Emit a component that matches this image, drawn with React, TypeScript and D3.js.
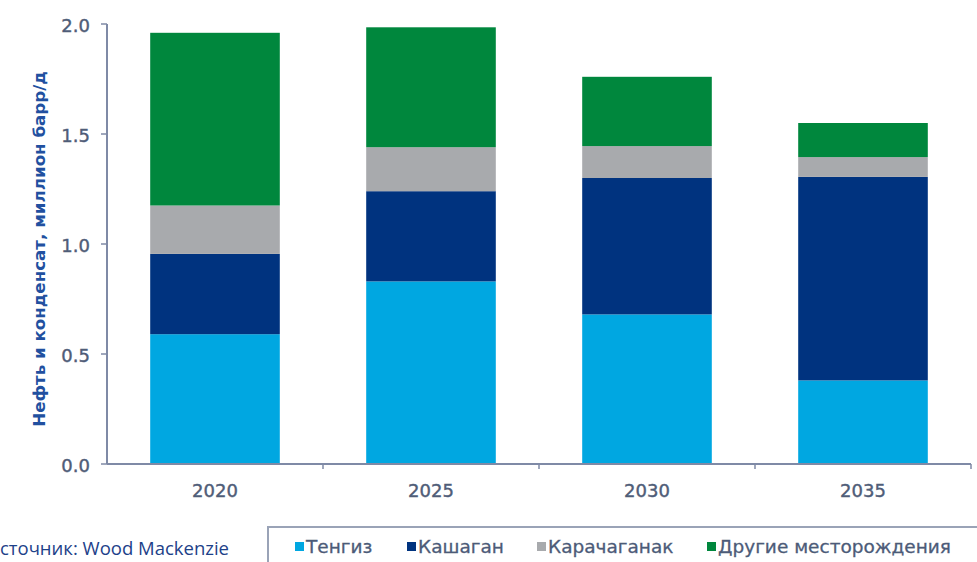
import React from "react";
import * as d3 from "d3";

const categories = ["2020", "2025", "2030", "2035"];
const seriesNames = ["Тенгиз", "Кашаган", "Карачаганак", "Другие месторождения"];
const tengiz = [0.59, 0.83, 0.68, 0.38];
const kashagan = [0.365, 0.41, 0.62, 0.925];
const karachaganak = [0.22, 0.2, 0.145, 0.09];
const other = [0.785, 0.545, 0.315, 0.155];
const yTicks = [0, 0.5, 1.0, 1.5, 2.0];
const colors = ["#00a7e1", "#00337f", "#a8aaad", "#00873d"];
const yTitle = "Нефть и конденсат, миллион барр/д";
const sourceText = "Источник: Wood Mackenzie";

const W = 977;
const H = 562;

export default function App() {
  const x = d3.scaleBand<string>().domain(categories).range([107, 971]).paddingInner(0.4).paddingOuter(0.2);
  const y = d3.scaleLinear().domain([0, 2]).range([464, 24]);
  const rows = categories.map((c, i) => ({
    cat: c,
    s0: tengiz[i],
    s1: kashagan[i],
    s2: karachaganak[i],
    s3: other[i],
  }));
  const stack = d3.stack<any>().keys(["s0", "s1", "s2", "s3"])(rows);
  const step = x.step();
  const axisColor = "#7f8aa6";
  const tickColor = "#4f5d78";
  const legendX = [295, 407, 537, 707];

  return (
    <svg width={W} height={H} style={{ position: "absolute", left: 0, top: 0, background: "#fff" }}>
      {stack.map((layer, li) => (
        <g key={li} fill={colors[li]}>
          {layer.map((d, i) => (
            <rect
              key={i}
              x={x(categories[i])}
              width={x.bandwidth()}
              y={y(d[1])}
              height={y(d[0]) - y(d[1])}
            />
          ))}
        </g>
      ))}
      {/* y axis */}
      <line x1={107} x2={107} y1={y(2)} y2={y(0)} stroke={axisColor} strokeWidth={2} />
      {yTicks.map((t) => (
        <g key={t}>
          <line x1={101} x2={107} y1={y(t)} y2={y(t)} stroke={axisColor} strokeWidth={1.5} />
          <text
            x={90}
            y={y(t)}
            dy="0.45em"
            textAnchor="end"
            fontFamily="DejaVu Sans"
            fontSize={18}
            fill={tickColor}
            stroke={tickColor}
            strokeWidth={0.4}
          >
            {t.toFixed(1)}
          </text>
        </g>
      ))}
      {/* x axis */}
      <line x1={107} x2={971} y1={y(0)} y2={y(0)} stroke={axisColor} strokeWidth={2} />
      {d3.range(1, categories.length + 1).map((k) => (
        <line key={k} x1={107 + step * k} x2={107 + step * k} y1={y(0)} y2={y(0) + 5} stroke={axisColor} strokeWidth={1.5} />
      ))}
      {categories.map((c) => (
        <text
          key={c}
          x={(x(c) as number) + x.bandwidth() / 2}
          y={497}
          textAnchor="middle"
          fontFamily="DejaVu Sans"
          fontSize={18}
          fill={tickColor}
          stroke={tickColor}
          strokeWidth={0.4}
        >
          {c}
        </text>
      ))}
      {/* y title */}
      <text
        transform={`translate(45, ${y(1) + 5}) rotate(-90)`}
        textAnchor="middle"
        fontFamily="DejaVu Sans"
        fontWeight="bold"
        fontSize={16.7}
        fill="#2150a0"
      >
        {yTitle}
      </text>
      {/* source */}
      <text x={229} y={555} textAnchor="end" fontFamily="Open Sans" fontSize={18.5} fill="#1d4189">
        {sourceText}
      </text>
      {/* legend */}
      <rect x={268} y={527} width={720} height={50} fill="#fff" stroke="#9aa3b7" strokeWidth={2} />
      {seriesNames.map((n, i) => (
        <g key={n}>
          <rect x={legendX[i]} y={542} width={9} height={9} fill={colors[i]} />
          <text
            x={legendX[i] + 11}
            y={553}
            fontFamily="DejaVu Sans"
            fontSize={18.5}
            fill="#4c5b78"
            stroke="#4c5b78"
            strokeWidth={0.3}
          >
            {n}
          </text>
        </g>
      ))}
    </svg>
  );
}
